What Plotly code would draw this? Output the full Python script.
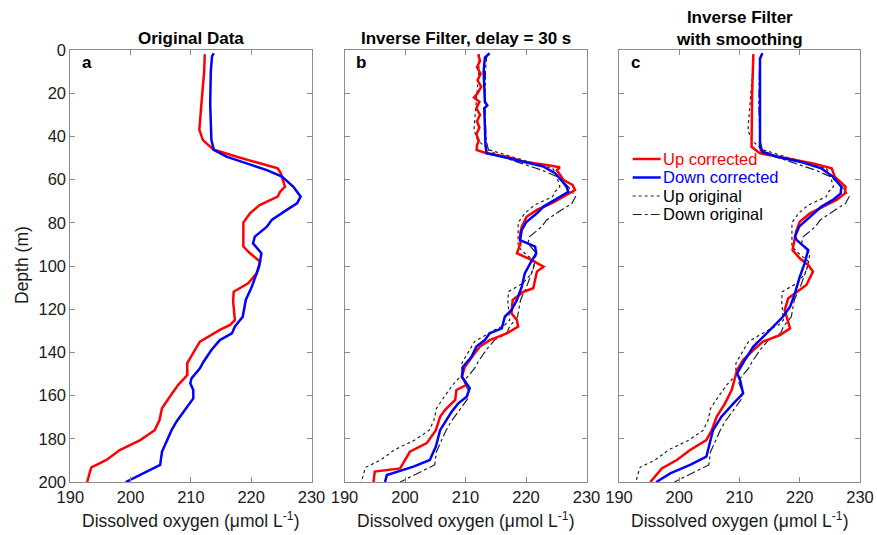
import plotly.graph_objects as go

# ---------------- data (depth in m, dissolved oxygen in umol/L) ----------------
# Original data (panel a) -- also drawn as "Up original"/"Down original" in b and c
up_orig_depth = [2, 10, 23, 30, 37, 41.7, 46, 49.4, 52.5, 54.8, 57, 63.3, 65.6, 67.9, 71.8, 75.6, 79.9,
                 91, 94.1, 98, 103.4, 108, 111.9, 116.5, 125, 127.3, 129.6, 132, 135, 137.3, 140.4, 145,
                 150.5, 155, 160.5, 165.9, 171.3, 176, 180.6, 185.2, 189.8, 193.2, 194.8, 200]
up_orig_o2 = [212.3, 212.2, 211.8, 211.6, 211.4, 212.0, 213.7, 217.6, 221.5, 224.4, 224.9, 225.6, 224.8,
              224.4, 221.4, 219.8, 218.7, 218.7, 219.8, 221.5, 220.9, 219.5, 217.1, 217.0, 217.3, 216.5,
              214.8, 213.4, 211.5, 211.0, 210.3, 209.4, 209.4, 207.9, 206.5, 205.2, 204.8, 204.0, 201.6,
              198.2, 196.0, 193.5, 193.3, 192.8]

down_orig_depth = [1.5, 3, 10, 25, 41.7, 46.3, 49.4, 52.5, 55.6, 58.6, 63.3, 67.9, 71, 74, 78.7, 81.8,
                   86.4, 89.5, 94.1, 100.3, 109.6, 115.7, 123.5, 128, 131.2, 134.3, 138.9, 144.3, 147.4,
                   152, 154.3, 157.4, 161.3, 166.7, 172.1, 176, 181.3, 186, 192.1, 194.4, 197.5, 200]
down_orig_o2 = [213.8, 213.5, 213.3, 213.2, 213.4, 213.8, 215.9, 219.2, 222.6, 225.1, 227.0, 228.2, 227.6,
                225.9, 223.4, 222.6, 220.6, 220.3, 221.7, 221.3, 220.1, 219.1, 218.6, 217.3, 216.8, 214.8,
                213.4, 212.1, 211.5, 210.1, 209.9, 210.4, 210.4, 209.0, 207.6, 206.8, 205.9, 205.2, 204.9,
                203.2, 201.0, 199.2]

# Inverse filter, delay = 30 s (panel b)
up_inv_depth = [2, 5, 8, 11, 14, 17, 20, 22, 24, 27, 30, 33, 36, 39, 42, 44, 46.3, 47.8, 49.4, 51.7, 53.2,
                54.3, 55.6, 60.2, 62.5, 64.8, 67.9, 71, 74, 77.2, 81.8, 85.6, 89.5, 94.1, 96.9, 100.3,
                102.6, 110.3, 111.9, 115.7, 121.9, 125, 128.1, 131.2, 134.3, 137.3, 141.2, 146.6, 151.2,
                155, 157.4, 162, 166.7, 169.8, 176, 182, 186, 193.7, 195.2, 200]
up_inv_o2 = [212.1, 212.4, 211.9, 212.5, 212.0, 212.6, 212.0, 211.4, 212.3, 211.8, 212.4, 211.9, 212.3,
             211.8, 212.2, 211.9, 211.85, 213.5, 216.8, 219.6, 223.4, 225.6, 225.1, 226.2, 227.7, 228.1,
             226.2, 224.2, 221.8, 220.1, 219.3, 219.0, 219.1, 218.5, 220.7, 222.9, 221.8, 221.2, 219.6,
             217.8, 217.6, 218.5, 218.7, 216.8, 214.0, 212.4, 211.3, 209.9, 209.4, 210.2, 208.5, 208.3,
             206.6, 205.8, 205.1, 203.6, 200.8, 199.2, 195.0, 194.8]

down_inv_depth = [1.5, 3.5, 10, 20, 24, 25.6, 27, 35, 44, 47.8, 49.4, 51.7, 54, 57, 60.2, 63.3, 65.6,
                  68.7, 72.5, 75.6, 79.5, 83.3, 88, 91, 94.1, 98.8, 103.4, 109.6, 115.7, 120.4, 123.5,
                  128.9, 131.2, 134.3, 137.3, 142, 146.6, 151.2, 154.3, 156.6, 160.5, 163.6, 167.5, 176,
                  183.6, 189.8, 192.9, 196.8, 200]
down_inv_o2 = [214.0, 213.2, 213.0, 213.1, 213.2, 213.6, 213.1, 213.2, 213.3, 213.5, 216.2, 219.6, 222.9,
               224.8, 225.8, 226.7, 227.0, 225.1, 222.9, 221.8, 220.1, 219.3, 219.0, 221.5, 221.7, 220.7,
               219.8, 219.3, 218.5, 217.6, 216.5, 216.0, 214.0, 213.2, 211.8, 211.0, 209.6, 209.4, 210.2,
               210.7, 210.2, 208.8, 207.7, 205.8, 205.1, 204.1, 201.4, 197.0, 196.7]

# Inverse filter with smoothing (panel c)
up_smooth_depth = [2, 20, 44.8, 47.8, 50.1, 52.5, 54.8, 56.3, 58.6, 63.3, 66.4, 69.4, 72.5, 75.6, 79.5,
                   84.1, 92.6, 96.4, 99.5, 102.6, 108.8, 111.9, 114.9, 120.4, 124.2, 128.9, 132, 135,
                   138.9, 143.5, 148.1, 152.8, 157.4, 163.6, 169.8, 176, 180.6, 185.2, 189.8, 193.7, 200]
up_smooth_o2 = [212.3, 212.1, 212.0, 213.4, 217.8, 222.2, 225.3, 225.5, 225.8, 227.6, 227.5, 226.1, 223.9,
                221.7, 220.0, 219.4, 218.8, 220.0, 221.4, 222.2, 221.1, 219.5, 218.1, 217.5, 217.9, 218.4,
                216.7, 213.9, 212.3, 210.6, 209.6, 209.2, 208.7, 207.6, 206.2, 205.4, 204.5, 201.8, 199.6,
                197.1, 195.2]

down_smooth_depth = [1.5, 4, 20, 45, 47, 49.4, 51.7, 54.8, 58.6, 63.3, 66.4, 69.4, 72.5, 77.2, 81.8, 86.4,
                     88, 92.6, 98.8, 105, 112.7, 118.8, 123.5, 128.1, 132.7, 137.3, 143.5, 149.7, 152.8,
                     159, 163.6, 169.8, 176, 182, 188.3, 192.1, 196, 200]
down_smooth_o2 = [213.8, 213.4, 213.4, 213.4, 213.7, 216.2, 220.0, 223.6, 225.5, 226.9, 226.8, 225.5,
                  223.6, 221.7, 219.9, 219.2, 219.5, 221.4, 220.8, 220.0, 219.2, 218.4, 217.2, 215.6, 213.9,
                  212.3, 210.9, 209.6, 210.1, 210.6, 209.0, 207.0, 205.6, 205.1, 204.5, 201.8, 198.5, 196.2]

panel_titles = ["Original Data", "Inverse Filter, delay = 30 s", "Inverse Filter<br>with smoothing"]
panel_letters = ["a", "b", "c"]
x_ticks = [190, 200, 210, 220, 230]
y_ticks = [0, 20, 40, 60, 80, 100, 120, 140, 160, 180, 200]
legend_names = ["Up corrected", "Down corrected", "Up original", "Down original"]

# ---------------- styling ----------------
FONT = "Liberation Sans, Arial, Helvetica, sans-serif"
RED = "#ff0000"
BLUE = "#0000ff"
AXCOL = "#8c8c8c"
TXT = "#1a1a1a"
W, H = 877, 535
ML, MR, MT, MB = 0, 0, 50, 53
domains = [[70.3 / W, 311.5 / W], [344.5 / W, 586.5 / W], [619.0 / W, 860.0 / W]]

fig = go.Figure()

def add(xs, ys, color, width, dash, name, ax):
    fig.add_trace(go.Scatter(x=xs, y=ys, mode="lines", name=name, showlegend=False,
                             line=dict(color=color, width=width, dash=dash),
                             xaxis="x" + ("" if ax == 1 else str(ax)),
                             yaxis="y" + ("" if ax == 1 else str(ax))))

# panel a
add(up_orig_o2, up_orig_depth, RED, 2.5, "solid", "Up original", 1)
add(down_orig_o2, down_orig_depth, BLUE, 2.5, "solid", "Down original", 1)
# panel b
add(up_orig_o2, up_orig_depth, "#222222", 1.2, "dot", "Up original", 2)
add(down_orig_o2, down_orig_depth, "#222222", 1.2, "dashdot", "Down original", 2)
add(up_inv_o2, up_inv_depth, RED, 2.5, "solid", "Up corrected", 2)
add(down_inv_o2, down_inv_depth, BLUE, 2.5, "solid", "Down corrected", 2)
# panel c
add(up_orig_o2, up_orig_depth, "#222222", 1.2, "dot", "Up original", 3)
add(down_orig_o2, down_orig_depth, "#222222", 1.2, "dashdot", "Down original", 3)
add(up_smooth_o2, up_smooth_depth, RED, 2.5, "solid", "Up corrected", 3)
add(down_smooth_o2, down_smooth_depth, BLUE, 2.5, "solid", "Down corrected", 3)

layout = dict(
    width=W, height=H,
    margin=dict(l=ML, r=MR, t=MT, b=MB, autoexpand=False),
    paper_bgcolor="white", plot_bgcolor="white",
    font=dict(family=FONT, size=17, color=TXT),
    showlegend=False,
)
for i in range(3):
    sfx = "" if i == 0 else str(i + 1)
    layout["xaxis" + sfx] = dict(
        domain=domains[i], range=[190, 230], tickvals=x_ticks, ticks="inside", ticklen=5,
        tickcolor=AXCOL, showline=True, linecolor=AXCOL, linewidth=1, mirror="ticks",
        showgrid=False, zeroline=False, anchor="y" + sfx,
        tickfont=dict(family=FONT, size=16.5, color=TXT), automargin=False,
    )
    layout["yaxis" + sfx] = dict(
        domain=[0, 1], range=[200, 0], tickvals=y_ticks, ticks="inside", ticklen=5,
        tickcolor=AXCOL, showline=True, linecolor=AXCOL, linewidth=1, mirror="ticks",
        showgrid=False, zeroline=False, anchor="x" + sfx, showticklabels=(i == 0),
        tickfont=dict(family=FONT, size=16.5, color=TXT), automargin=False,
    )
fig.update_layout(**layout)

PH = H - MT - MB
ann = []
title_centers = [39, 39, 28.5]
for i in range(3):
    xc = (domains[i][0] + domains[i][1]) / 2
    ann.append(dict(text="<b>" + panel_titles[i] + "</b>", xref="paper", yref="paper", x=xc,
                    y=1 + (MT - title_centers[i]) / PH, xanchor="center", yanchor="middle",
                    showarrow=False, font=dict(family=FONT, size=17, color="black")))
    sfx = "" if i == 0 else str(i + 1)
    ann.append(dict(text="<b>" + panel_letters[i] + "</b>", xref="x" + sfx + " domain",
                    yref="y" + sfx + " domain", x=0.07, y=1 - 13 / PH, xanchor="center",
                    yanchor="middle", showarrow=False, font=dict(family=FONT, size=17, color="black")))
    ann.append(dict(text="Dissolved oxygen (μmol L<sup>-1</sup>)", xref="paper", yref="paper", x=xc,
                    y=-(520 - (H - MB)) / PH, xanchor="center", yanchor="middle", showarrow=False,
                    font=dict(family=FONT, size=17.5, color=TXT)))
ann.append(dict(text="Depth (m)", xref="paper", yref="paper", x=22 / W, y=1 - (265 - MT) / PH,
                xanchor="center", yanchor="middle", textangle=-90, showarrow=False,
                font=dict(family=FONT, size=17.5, color=TXT)))

# manual legend in panel c
leg_y = [159, 177.5, 196, 214.5]
leg_colors = [RED, BLUE, "black", "black"]
leg_line = [(RED, 2.5, "solid"), (BLUE, 2.5, "solid"), ("#222222", 1.2, "dot"), ("#222222", 1.2, "dashdot")]
shapes = []
for k in range(4):
    yf = 1 - (leg_y[k] - MT) / PH
    c, wdt, dsh = leg_line[k]
    shapes.append(dict(type="line", xref="x3 domain", yref="y3 domain",
                       x0=(632.7 - 619) / 241, x1=(660.7 - 619) / 241, y0=yf, y1=yf,
                       line=dict(color=c, width=wdt, dash=dsh)))
    ann.append(dict(text=legend_names[k], xref="x3 domain", yref="y3 domain", x=(662.0 - 619) / 241,
                    y=yf, xanchor="left", yanchor="middle", showarrow=False, borderpad=0,
                    font=dict(family=FONT, size=16.5, color=leg_colors[k])))

fig.update_layout(annotations=ann, shapes=shapes)
fig.write_html("out.html")
